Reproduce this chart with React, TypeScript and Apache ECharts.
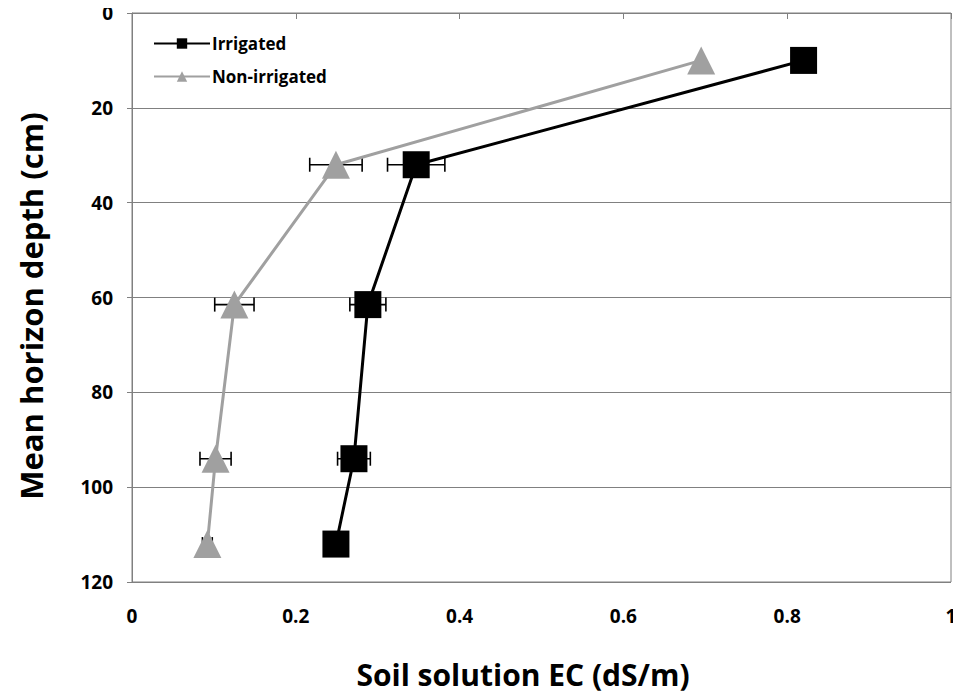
import React, { useEffect, useRef } from "react";
import * as echarts from "echarts";

const depths = [10, 32, 61.5, 94, 112];
const irrigatedEC = [0.82, 0.347, 0.288, 0.271, 0.249];
const irrigatedErr = [0, 0.035, 0.022, 0.02, 0];
const nonIrrigatedEC = [0.695, 0.249, 0.125, 0.102, 0.092];
const nonIrrigatedErr = [0, 0.032, 0.024, 0.019, 0.006];
const seriesNames = ["Irrigated", "Non-irrigated"];

const FONT = "'Open Sans', Lato, sans-serif";
const GRAY = "#a0a0a0";

function errBarSeries(ec: number[], err: number[]) {
  return {
    type: "custom",
    silent: true,
    z: 1,
    data: ec.map((v, i) => [v, depths[i], err[i]]),
    renderItem: (params: any, api: any) => {
      const x = api.value(0);
      const y = api.value(1);
      const e = api.value(2);
      if (!e) return { type: "group", children: [] };
      const p1 = api.coord([x - e, y]);
      const p2 = api.coord([x + e, y]);
      const h = 7;
      const st = { stroke: "#000", lineWidth: 1.6 };
      return {
        type: "group",
        children: [
          { type: "line", shape: { x1: p1[0], y1: p1[1], x2: p2[0], y2: p2[1] }, style: st },
          { type: "line", shape: { x1: p1[0], y1: p1[1] - h, x2: p1[0], y2: p1[1] + h }, style: st },
          { type: "line", shape: { x1: p2[0], y1: p2[1] - h, x2: p2[0], y2: p2[1] + h }, style: st },
        ],
      };
    },
  };
}

export default function App() {
  const ref = useRef<HTMLDivElement>(null);
  useEffect(() => {
    const chart = echarts.init(ref.current!, null, { renderer: "svg" });
    chart.setOption({
      animation: false,
      backgroundColor: "#fff",
      grid: {
        left: 132,
        right: 10,
        top: 13,
        bottom: 116,
        show: true,
        borderColor: "#808080",
        borderWidth: 1,
      },
      legend: {
        orient: "vertical",
        left: 148,
        top: 30,
        itemWidth: 56,
        itemHeight: 13,
        itemGap: 16,
        data: seriesNames,
        textStyle: { fontFamily: FONT, fontWeight: "bold", fontSize: 17, color: "#000", padding: [0, 0, 0, -3] },
      },
      xAxis: {
        type: "value",
        min: 0,
        max: 1,
        interval: 0.2,
        axisLine: { show: true, lineStyle: { color: "#808080" } },
        axisTick: { show: true, length: 6, lineStyle: { color: "#808080" } },
        splitLine: { show: false },
        axisLabel: { margin: 24, fontFamily: FONT, fontWeight: "bold", fontSize: 19, color: "#000" },
      },
      yAxis: {
        type: "value",
        inverse: true,
        min: 0,
        max: 120,
        interval: 20,
        axisLine: { show: true, lineStyle: { color: "#808080" } },
        axisTick: { show: true, length: 5, lineStyle: { color: "#808080" } },
        splitLine: { show: true, lineStyle: { color: "#808080", width: 1 } },
        axisLabel: { margin: 19, fontFamily: FONT, fontWeight: "bold", fontSize: 19, color: "#000" },
      },
      graphic: [
        {
          type: "text",
          x: 31,
          y: 306,
          rotation: Math.PI / 2,
          style: {
            text: "Mean horizon depth (cm)",
            font: `bold 31px ${FONT}`,
            fill: "#000",
            textAlign: "center",
            textVerticalAlign: "middle",
          },
        },
        {
          type: "text",
          x: 523,
          y: 674,
          style: {
            text: "Soil solution EC (dS/m)",
            font: `bold 30px ${FONT}`,
            fill: "#000",
            textAlign: "center",
            textVerticalAlign: "middle",
          },
        },
      ],
      series: [
        errBarSeries(irrigatedEC, irrigatedErr),
        errBarSeries(nonIrrigatedEC, nonIrrigatedErr),
        {
          name: seriesNames[0],
          type: "line",
          z: 3,
          data: irrigatedEC.map((v, i) => [v, depths[i]]),
          symbol: "rect",
          symbolSize: 27,
          lineStyle: { color: "#000", width: 3 },
          itemStyle: { color: "#000" },
        },
        {
          name: seriesNames[1],
          type: "line",
          z: 2,
          data: nonIrrigatedEC.map((v, i) => [v, depths[i]]),
          symbol: "triangle",
          symbolSize: 28,
          lineStyle: { color: GRAY, width: 3 },
          itemStyle: { color: GRAY },
        },
      ],
    });
    return () => chart.dispose();
  }, []);
  return <div ref={ref} style={{ width: 961, height: 698, marginLeft: -8, marginTop: -8 }} />;
}
